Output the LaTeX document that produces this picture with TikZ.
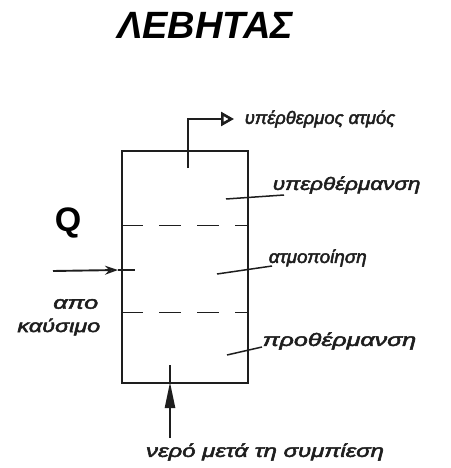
\documentclass[tikz,border=0pt]{standalone}
\usepackage{fontspec}
\setmainfont{Liberation Sans}
\newfontfamily\tagfont{Liberation Sans Italic}[FakeBold=2.5]
\usetikzlibrary{arrows.meta, positioning}
\definecolor{cink}{HTML}{1E1E1E}
\newcommand{\wide}[2]{\scalebox{#1}[1]{#2}}
\tikzset{
  every picture/.style={line width=1.6pt, draw=cink},
  vessel/.style={draw=cink, rectangle, minimum width=126pt, minimum height=232pt, inner sep=0pt},
  sep/.style={draw=cink, line width=1.4pt, dash pattern=on 22pt off 16pt},
  lead/.style={draw=cink, line width=1.5pt},
  tag/.style={font=\tagfont\fontsize{18}{20}\selectfont, text=cink, inner sep=0pt},
  title/.style={font=\bfseries\itshape\fontsize{38}{40}\selectfont, text=black},
  pipe/.style={draw=cink, line width=1.9pt},
}

\begin{document}
\begin{tikzpicture}[x=1pt, y=-1pt]
  \useasboundingbox (0,0) rectangle (450,468);
  \node[title] (head) at (205,25) {ΛΕΒΗΤΑΣ};
  \node[vessel] (boiler) at (185,267) {};
  % zone borders
  \draw[sep] ([yshift=-75pt]boiler.north west) -- ([yshift=-75pt]boiler.north east);
  \draw[sep] ([yshift=-162pt]boiler.north west) -- ([yshift=-162pt]boiler.north east);
  % steam out
  \node[tag, anchor=west] (steam) at (244,119) {\wide{1.02}{υπέρθερμος ατμός}};
  \coordinate (steamin) at (188,168);
  \coordinate (steamtip) at (234,119);
  \draw[pipe, -{Triangle[open, length=13pt, width=14pt, line width=2.6pt]}] (steamin) |- (steamtip);
  % zones
  \node[tag, anchor=west] (zsh) at (272,185) {\wide{1.25}{υπερθέρμανση}};
  \node[tag, anchor=west] (zev) at (268,258) {\wide{1.05}{ατμοποίηση}};
  \node[tag, anchor=west] (zph) at (262,341) {\wide{1.39}{προθέρμανση}};
  \coordinate (psh) at (226,199);
  \coordinate (pev) at (217,274);
  \coordinate (pph) at (227,355);
  \draw[lead] (psh) -- (255,197) -- (284,195);
  \draw[lead] (pev) -- (272,266);
  \draw[lead] (pph) -- (262,347);
  % heat in
  \node[font=\bfseries\fontsize{34}{36}\selectfont] (heat) at (68,223) {Q};
  \node[tag, anchor=east] (fuela) at (99,304) {\wide{1.4}{απο}};
  \node[tag, anchor=east] (fuelb) at (101,327) {\wide{1.3}{καύσιμο}};
  \coordinate (qstart) at (53,271);
  \coordinate (qtip) at (118,270);
  \coordinate (qend) at (135,270);
  \draw[pipe, -{Stealth[open, length=13pt, width=9pt, line width=1.8pt]}] (qstart) -- (qtip);
  \draw[pipe] (qtip) -- (qend);
  % feed water
  \node[tag] (water) at (265,452) {\wide{1.33}{νερό μετά τη συμπίεση}};
  \coordinate (wstart) at (170,438);
  \coordinate (wtip) at (170,382);
  \coordinate (wend) at (170,365);
  \draw[pipe, line width=2.4pt, -{Triangle[length=26pt, width=10pt]}] (wstart) -- (wtip);
  \draw[pipe, line width=2.4pt] (wtip) -- (wend);
\end{tikzpicture}
\end{document}
